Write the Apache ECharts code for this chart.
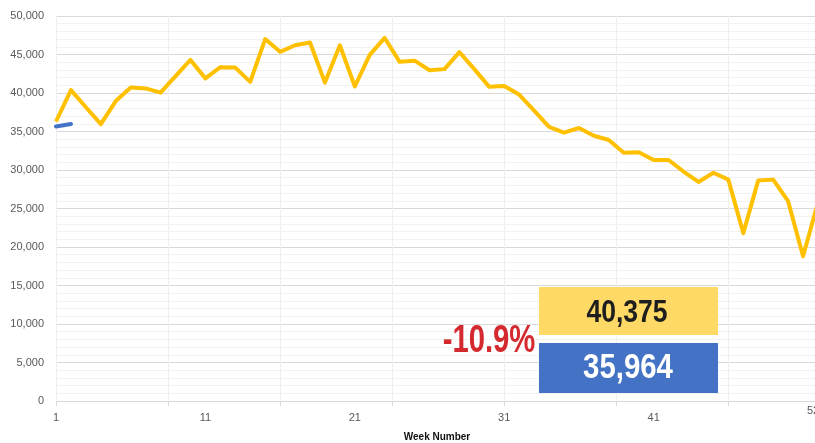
<!DOCTYPE html>
<html>
<head>
<meta charset="utf-8">
<script src="https://cdn.jsdelivr.net/npm/echarts@6/dist/echarts.min.js"></script>
<style>
  html, body { margin: 0; padding: 0; background: #fff; }
  #chart { width: 815px; height: 443px; }
</style>
</head>
<body>
<div id="chart"></div>
<script>
// Week numbers 1..52
const weeks = [1,2,3,4,5,6,7,8,9,10,11,12,13,14,15,16,17,18,19,20,21,22,23,24,25,26,
               27,28,29,30,31,32,33,34,35,36,37,38,39,40,41,42,43,44,45,46,47,48,49,50,51,52];
// Last year (yellow)
const lastYear = [36300,40375,38150,35950,38950,40700,40600,40050,42200,44300,41900,43350,43300,41450,
                  47000,45350,46200,46550,41350,46200,40850,44950,47150,44050,44200,42950,43100,45300,
                  43100,40800,40900,39800,37700,35600,34850,35450,34450,33900,32250,32300,31300,31300,
                  29800,28450,29650,28750,21800,28650,28750,25950,18800,25800];
// This year (blue)
const thisYear = [35650,35964];
// Tick labels
const yTickLabels = [0,5000,10000,15000,20000,25000,30000,35000,40000,45000,50000];
const xTickWeeks = [1,11,21,31,41];
const xLastWeek = 52;

const chart = echarts.init(document.getElementById('chart'));
const fmt = v => Number(v).toLocaleString('en-US');

const yellowVal = lastYear[thisYear.length - 1];
const blueVal = thisYear[thisYear.length - 1];
const pct = ((blueVal / yellowVal - 1) * 100).toFixed(1) + '%';

const labelFont = '"Liberation Sans", "Noto Sans", sans-serif';
const boldFont = '"Liberation Sans", Arial, sans-serif';

chart.setOption({
  animation: false,
  backgroundColor: '#ffffff',
  grid: { left: 56, right: -3, top: 16, bottom: 42, outerBoundsMode: 'none', containLabel: false },
  xAxis: [
    { // grid/ticks axis
      type: 'value', min: 0, max: 51, interval: 7.5,
      axisLine: { show: true, lineStyle: { color: '#d9d9d9', width: 1 } },
      axisTick: { show: true, length: 5, lineStyle: { color: '#d9d9d9' } },
      axisLabel: { show: false },
      splitLine: { show: true, lineStyle: { color: '#efefef', width: 1 } },
      name: 'Week Number', nameLocation: 'middle', nameGap: 31,
      nameTextStyle: { fontFamily: labelFont, fontWeight: 'bold', fontSize: 10, color: '#111' }
    },
    { // labels axis
      type: 'value', min: 0, max: 51, position: 'bottom',
      axisLine: { show: false }, axisTick: { show: false }, splitLine: { show: false },
      axisLabel: {
        show: true, margin: 11, fontSize: 11, color: '#595959', fontFamily: labelFont,
        customValues: xTickWeeks.map(w => w - 1),
        formatter: v => String(Math.round(v) + 1)
      }
    },
    { // last label, sits higher
      type: 'value', min: 0, max: 51, position: 'bottom',
      axisLine: { show: false }, axisTick: { show: false }, splitLine: { show: false },
      axisLabel: {
        show: true, margin: 4, fontSize: 11, color: '#595959', fontFamily: labelFont,
        customValues: [xLastWeek - 1], showMaxLabel: true, padding: [0, 10, 0, 0],
        formatter: v => String(Math.round(v) + 1)
      }
    }
  ],
  yAxis: {
    type: 'value', min: yTickLabels[0], max: yTickLabels[yTickLabels.length - 1], interval: 5000,
    axisLine: { show: false }, axisTick: { show: false },
    axisLabel: { margin: 12, fontSize: 11, color: '#595959', fontFamily: labelFont, formatter: v => fmt(v) },
    splitLine: { show: true, lineStyle: { color: '#d9d9d9', width: 1 } },
    minorTick: { show: false, splitNumber: 5 },
    minorSplitLine: { show: true, lineStyle: { color: '#f2f2f2', width: 1 } }
  },
  series: [
    {
      type: 'line', name: 'Last year', xAxisIndex: 0,
      data: weeks.map((w, i) => [w - 1, lastYear[i]]),
      showSymbol: false, symbol: 'none',
      lineStyle: { color: '#FFC000', width: 4, join: 'round' }
    },
    {
      type: 'line', name: 'This year', xAxisIndex: 0,
      data: thisYear.map((v, i) => [weeks[i] - 1, v]),
      showSymbol: false, symbol: 'none',
      lineStyle: { color: '#4472C4', width: 4, cap: 'round' }
    }
  ],
  graphic: [
    { type: 'rect', z: 100, shape: { x: 539, y: 287, width: 179, height: 48 }, style: { fill: '#FFD966' } },
    { type: 'rect', z: 100, shape: { x: 539, y: 343, width: 179, height: 50 }, style: { fill: '#4472C4' } },
    { type: 'text', z: 101, x: 627, y: 313, scaleX: 0.83,
      style: { x: 0, y: 0, text: fmt(yellowVal), fill: '#1e1e1e',
        font: 'bold 32px ' + boldFont, textAlign: 'center', textVerticalAlign: 'middle' } },
    { type: 'text', z: 101, x: 628, y: 368, scaleX: 0.84,
      style: { x: 0, y: 0, text: fmt(blueVal), fill: '#ffffff',
        font: 'bold 35px ' + boldFont, textAlign: 'center', textVerticalAlign: 'middle' } },
    { type: 'text', z: 101, x: 489, y: 341, scaleX: 0.75,
      style: { x: 0, y: 0, text: pct, fill: '#D42A2F',
        font: 'bold 39px ' + boldFont, textAlign: 'center', textVerticalAlign: 'middle' } }
  ]
});
</script>
</body>
</html>
